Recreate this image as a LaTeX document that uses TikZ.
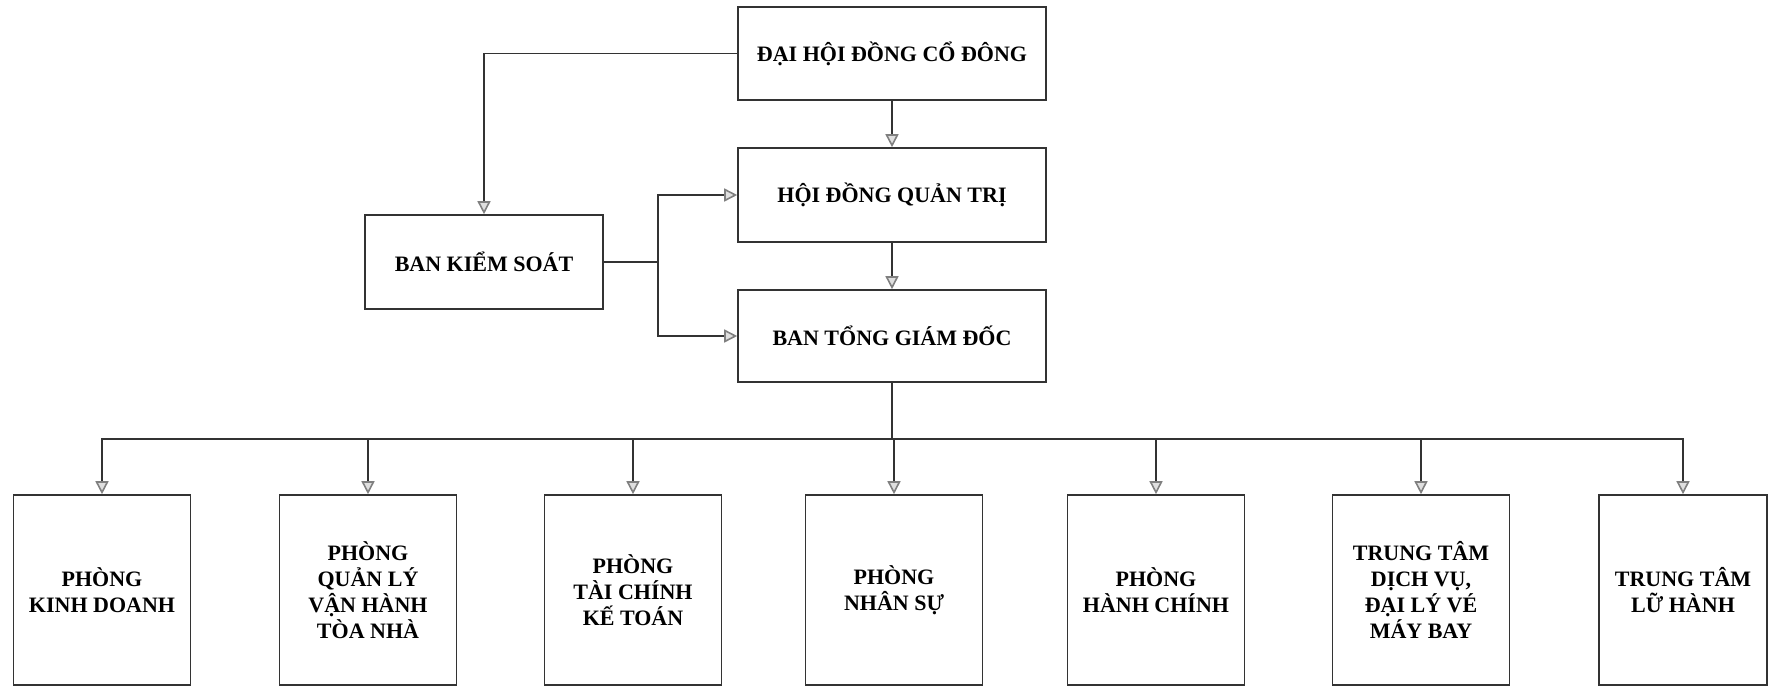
\documentclass[tikz,border=0pt]{standalone}
\usepackage{fontspec}
\setmainfont{Liberation Serif}
\usetikzlibrary{arrows.meta}

\begin{document}
\begin{tikzpicture}
  [x=1pt,y=-1pt,line width=1.6pt,color=black!80,
   >={Triangle[open,length=13pt,width=13pt,color=gray,fill=gray!25]},
   every node/.style={draw=black!80,rectangle,inner sep=2pt,align=center,
     text=black,font=\fontsize{22}{26}\selectfont\bfseries,
     minimum width=177,minimum height=190}]
  \useasboundingbox (0,0) rectangle (1768,688);

  \node[minimum width=308,minimum height=93] (d) at (892,53.5) {ĐẠI HỘI ĐỒNG CỔ ĐÔNG};
  \node[minimum width=308,minimum height=94] (q) at (892,195) {HỘI ĐỒNG QUẢN TRỊ};
  \node[minimum width=308,minimum height=92] (t) at (892,336) {BAN TỔNG GIÁM ĐỐC};
  \node[minimum width=238,minimum height=94] (k) at (484,262) {BAN KIỂM SOÁT};

  \node (p1) at (102,590)  {PHÒNG\\KINH DOANH};
  \node (p2) at (368,590)  {PHÒNG\\QUẢN LÝ\\VẬN HÀNH\\TÒA NHÀ};
  \node (p3) at (633,590)  {PHÒNG\\TÀI CHÍNH\\KẾ TOÁN};
  \node (p4) at (894,590)  {PHÒNG\\NHÂN SỰ};
  \node (p5) at (1156,590) {PHÒNG\\HÀNH CHÍNH};
  \node (p6) at (1421,590) {TRUNG TÂM\\DỊCH VỤ,\\ĐẠI LÝ VÉ\\MÁY BAY};
  \node[minimum width=168] (p7) at (1683,590) {TRUNG TÂM\\LỮ HÀNH};

  \draw[->] (d.south) -- (q.north);
  \draw[->] (q.south) -- (t.north);
  \draw[->] (d.west) -| (k.north);
  \draw[->] (k.east) -- ++(54,0) |- (q.west);
  \draw[->] (k.east) -- ++(54,0) |- (t.west);

  \foreach \to in {p1,p2,p3,p4,p5,p6,p7}
    \draw[->] (t.south) -- ++(0,56) -| (\to.north);

\end{tikzpicture}
\end{document}
